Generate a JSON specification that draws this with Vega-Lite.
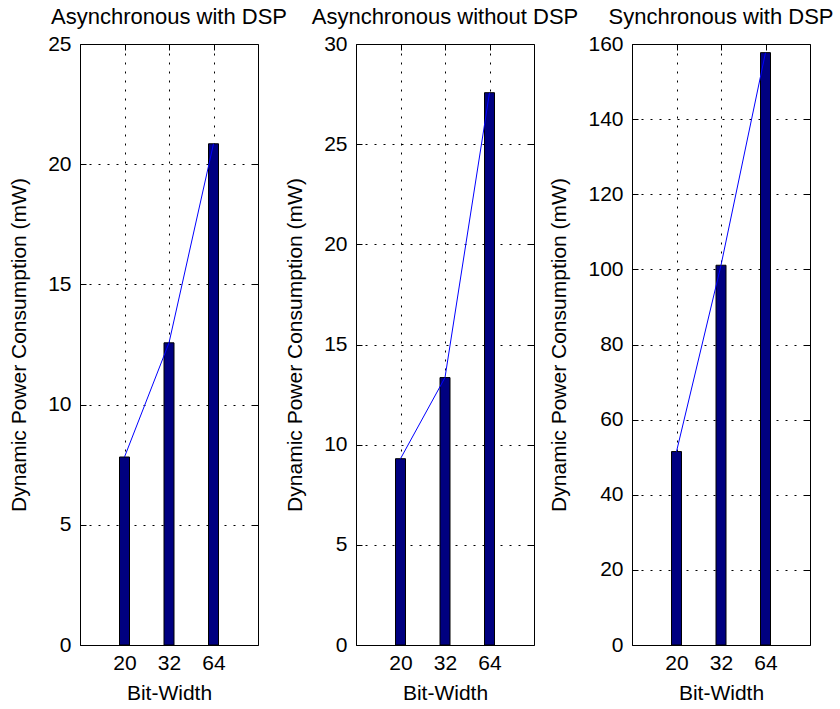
{
  "$schema": "https://vega.github.io/schema/vega-lite/v6.json",
  "padding": {"left": 8, "top": 5, "right": 5, "bottom": 5},
  "background": "white",
  "datasets": {
    "power": [
      {"panel": "Asynchronous with DSP", "bits": 20, "power": 7.82},
      {"panel": "Asynchronous with DSP", "bits": 32, "power": 12.57},
      {"panel": "Asynchronous with DSP", "bits": 64, "power": 20.85},
      {"panel": "Asynchronous without DSP", "bits": 20, "power": 9.3},
      {"panel": "Asynchronous without DSP", "bits": 32, "power": 13.35},
      {"panel": "Asynchronous without DSP", "bits": 64, "power": 27.57},
      {"panel": "Synchronous with DSP", "bits": 20, "power": 51.5},
      {"panel": "Synchronous with DSP", "bits": 32, "power": 101.1},
      {"panel": "Synchronous with DSP", "bits": 64, "power": 157.7}
    ]
  },
  "config": {
    "font": "Liberation Sans",
    "view": {"stroke": "black", "strokeWidth": 1},
    "axis": {
      "labelFont": "Liberation Sans", "titleFont": "Liberation Sans",
      "labelFontSize": 21, "titleFontSize": 21, "titleFontWeight": "normal",
      "labelColor": "black", "titleColor": "black",
      "domain": false, "tickColor": "black", "tickSize": -6, "tickWidth": 1,
      "gridColor": "black", "gridDash": [2, 7], "gridOpacity": 1, "gridWidth": 1
    },
    "axisX": {"labelPadding": 13, "titlePadding": 9, "labelAngle": 0},
    "axisY": {"labelPadding": 15, "titlePadding": 18},
    "title": {"font": "Liberation Sans", "fontSize": 22, "fontWeight": "normal", "color": "black", "offset": 4}
  },
  "bounds": "flush",
  "spacing": 98,
  "hconcat": [
    {
      "width": 178, "height": 601,
      "title": "Asynchronous with DSP",
      "data": {"name": "power"},
      "transform": [{"filter": "datum.panel === 'Asynchronous with DSP'"}],
      "layer": [
        {
          "mark": {"type": "bar", "size": 10, "color": "#000080", "stroke": "black", "strokeWidth": 1},
          "encoding": {
            "x": {"field": "bits", "type": "ordinal", "sort": [20, 32, 64], "scale": {"type": "point", "padding": 1}, "axis": {"title": "Bit-Width", "grid": true}},
            "y": {"field": "power", "type": "quantitative", "scale": {"domain": [0, 25], "nice": false}, "axis": {"title": "Dynamic Power Consumption (mW)", "values": [0, 5, 10, 15, 20, 25], "grid": true}}
          }
        },
        {
          "mark": {"type": "line", "color": "#0000ff", "strokeWidth": 1},
          "encoding": {
            "x": {"field": "bits", "type": "ordinal", "sort": [20, 32, 64], "scale": {"type": "point", "padding": 1}, "axis": {"orient": "top", "title": null, "labels": false, "grid": false}},
            "y": {"field": "power", "type": "quantitative", "scale": {"domain": [0, 25], "nice": false}, "axis": {"orient": "right", "title": null, "labels": false, "grid": false, "values": [0, 5, 10, 15, 20, 25]}}
          }
        }
      ],
      "resolve": {"axis": {"x": "independent", "y": "independent"}}
    },
    {
      "width": 178, "height": 601,
      "title": "Asynchronous without DSP",
      "data": {"name": "power"},
      "transform": [{"filter": "datum.panel === 'Asynchronous without DSP'"}],
      "layer": [
        {
          "mark": {"type": "bar", "size": 10, "color": "#000080", "stroke": "black", "strokeWidth": 1},
          "encoding": {
            "x": {"field": "bits", "type": "ordinal", "sort": [20, 32, 64], "scale": {"type": "point", "padding": 1}, "axis": {"title": "Bit-Width", "grid": true}},
            "y": {"field": "power", "type": "quantitative", "scale": {"domain": [0, 30], "nice": false}, "axis": {"title": "Dynamic Power Consumption (mW)", "values": [0, 5, 10, 15, 20, 25, 30], "grid": true}}
          }
        },
        {
          "mark": {"type": "line", "color": "#0000ff", "strokeWidth": 1},
          "encoding": {
            "x": {"field": "bits", "type": "ordinal", "sort": [20, 32, 64], "scale": {"type": "point", "padding": 1}, "axis": {"orient": "top", "title": null, "labels": false, "grid": false}},
            "y": {"field": "power", "type": "quantitative", "scale": {"domain": [0, 30], "nice": false}, "axis": {"orient": "right", "title": null, "labels": false, "grid": false, "values": [0, 5, 10, 15, 20, 25, 30]}}
          }
        }
      ],
      "resolve": {"axis": {"x": "independent", "y": "independent"}}
    },
    {
      "width": 178, "height": 601,
      "title": "Synchronous with DSP",
      "data": {"name": "power"},
      "transform": [{"filter": "datum.panel === 'Synchronous with DSP'"}],
      "layer": [
        {
          "mark": {"type": "bar", "size": 10, "color": "#000080", "stroke": "black", "strokeWidth": 1},
          "encoding": {
            "x": {"field": "bits", "type": "ordinal", "sort": [20, 32, 64], "scale": {"type": "point", "padding": 1}, "axis": {"title": "Bit-Width", "grid": true}},
            "y": {"field": "power", "type": "quantitative", "scale": {"domain": [0, 160], "nice": false}, "axis": {"title": "Dynamic Power Consumption (mW)", "values": [0, 20, 40, 60, 80, 100, 120, 140, 160], "grid": true}}
          }
        },
        {
          "mark": {"type": "line", "color": "#0000ff", "strokeWidth": 1},
          "encoding": {
            "x": {"field": "bits", "type": "ordinal", "sort": [20, 32, 64], "scale": {"type": "point", "padding": 1}, "axis": {"orient": "top", "title": null, "labels": false, "grid": false}},
            "y": {"field": "power", "type": "quantitative", "scale": {"domain": [0, 160], "nice": false}, "axis": {"orient": "right", "title": null, "labels": false, "grid": false, "values": [0, 20, 40, 60, 80, 100, 120, 140, 160]}}
          }
        }
      ],
      "resolve": {"axis": {"x": "independent", "y": "independent"}}
    }
  ]
}
